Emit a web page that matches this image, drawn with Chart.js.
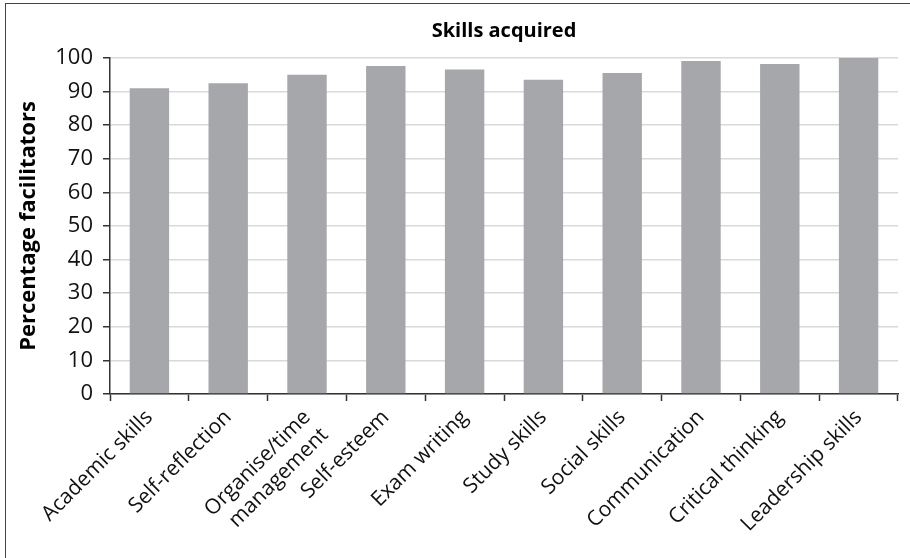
<!DOCTYPE html>
<html>
<head>
<meta charset="utf-8">
<script src="https://cdn.jsdelivr.net/npm/chart.js@4.4.1/dist/chart.umd.min.js"></script>
<style>
    body { margin: 0; background: #fff; }
    #wrap { position: relative; width: 910px; height: 558px; }
    #frame {
        position: absolute; left: 5px; top: 3px; width: 920px; height: 570px;
        border: 1.5px solid #444; box-sizing: border-box;
    }
    canvas { position: absolute; left: 0; top: 0; }
</style>
</head>
<body>
<div id="wrap">
    <div id="frame"></div>
    <canvas id="skillsChart" width="910" height="558"></canvas>
</div>
<script>
const skills = [
    'Academic skills',
    'Self-reflection',
    ['Organise/time', 'management'],
    'Self-esteem',
    'Exam writing',
    'Study skills',
    'Social skills',
    'Communication',
    'Critical thinking',
    'Leadership skills'
];
const percentages = [91.0, 92.5, 95.0, 97.6, 96.6, 93.5, 95.5, 99.1, 98.2, 100];
const yTicks = { min: 0, max: 100, step: 10 };

const FONT = "'Open Sans', 'DejaVu Sans', sans-serif";
const axisColor = '#333333';

const ctx = document.getElementById('skillsChart').getContext('2d');
new Chart(ctx, {
    type: 'bar',
    data: {
        labels: skills,
        datasets: [{
            data: percentages,
            backgroundColor: '#a6a7aa',
            borderWidth: 0,
            barPercentage: 0.5,
            categoryPercentage: 1.0
        }]
    },
    options: {
        responsive: false,
        animation: false,
        layout: { padding: { left: 10, right: 12, top: 0, bottom: 0 } },
        plugins: {
            legend: { display: false },
            tooltip: { enabled: false },
            title: {
                display: true,
                fullSize: false, // centre the title over the plot area
                text: 'Skills acquired',
                color: '#000',
                font: { family: FONT, size: 20, weight: 'bold' },
                padding: { top: 19, bottom: 15 }
            }
        },
        scales: {
            x: {
                grid: {
                    offset: true,
                    drawOnChartArea: false,
                    tickLength: 7,
                    tickColor: axisColor,
                    tickWidth: 1.5
                },
                border: { color: axisColor, width: 1.5 },
                ticks: {
                    color: '#111',
                    font: { family: FONT, size: 21 },
                    maxRotation: 45,
                    minRotation: 45,
                    autoSkip: false,
                    padding: 4
                },
                afterFit: (scale) => { scale.height = 164; }
            },
            y: {
                min: yTicks.min,
                max: yTicks.max,
                grid: {
                    color: '#d9d9d9',
                    lineWidth: 1.5,
                    tickLength: 7,
                    tickColor: axisColor,
                    tickWidth: 1.5
                },
                border: { color: axisColor, width: 1.5 },
                ticks: {
                    stepSize: yTicks.step,
                    color: '#111',
                    font: { family: FONT, size: 22 },
                    padding: 10
                },
                title: {
                    display: true,
                    text: 'Percentage facilitators',
                    color: '#000',
                    font: { family: FONT, size: 22, weight: 'bold' },
                    padding: { top: 6, bottom: 0 }
                },
                afterFit: (scale) => { scale.width = 100; }
            }
        }
    }
});
</script>
</body>
</html>
